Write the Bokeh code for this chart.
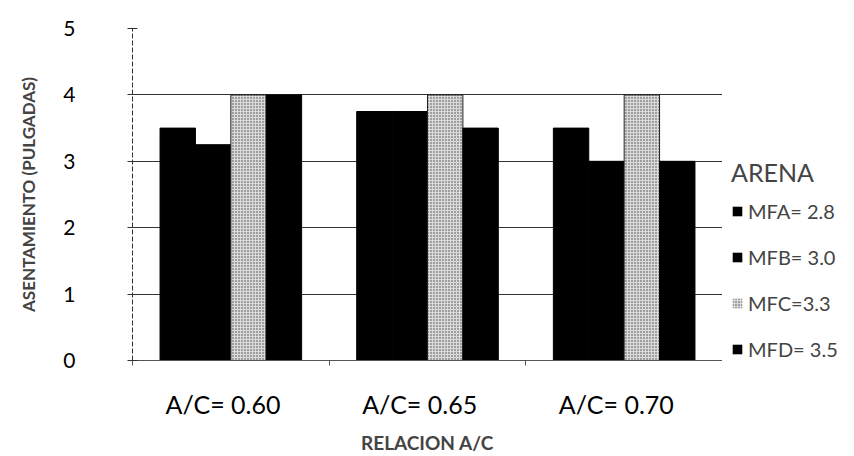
from bokeh.plotting import figure
from bokeh.layouts import row
from bokeh.models import Range1d, FixedTicker, Legend, LegendItem, ColumnDataSource
from bokeh.embed import file_html
from bokeh.resources import INLINE

# Slump (inches) per water/cement ratio for each sand fineness modulus
categories = ["A/C= 0.60", "A/C= 0.65", "A/C= 0.70"]
series_names = ["MFA= 2.8", "MFB= 3.0", "MFC=3.3", "MFD= 3.5"]
mfa = [3.5, 3.75, 3.5]
mfb = [3.25, 3.75, 3.0]
mfc = [4.0, 4.0, 4.0]
mfd = [4.0, 3.5, 3.0]
y_ticks = [0, 1, 2, 3, 4, 5]

FONT = "Lato"
bar_w = 0.18
offsets = [-1.5, -0.5, 0.5, 1.5]

solid_style = dict(fill_color="black", line_color="black", line_width=1)
dotted_style = dict(fill_color="#dadada", line_color="#222222", line_width=1,
                    hatch_pattern=".", hatch_color="#444444", hatch_scale=3,
                    hatch_weight=1.2)

p = figure(width=722, height=456, x_range=Range1d(0, 3), y_range=Range1d(0, 5),
           output_backend="svg", toolbar_location=None,
           min_border_left=132, min_border_right=0,
           min_border_top=28, min_border_bottom=96)
p.outline_line_color = None
p.background_fill_color = "white"

for name, vals, off in zip(series_names, [mfa, mfb, mfc, mfd], offsets):
    xs = [i + 0.5 + off * bar_w for i in range(len(categories))]
    src = ColumnDataSource(dict(x=xs, top=vals))
    style = dotted_style if name.startswith("MFC") else solid_style
    p.vbar(x="x", top="top", width=bar_w, bottom=0, source=src, **style)

# y axis
p.yaxis.ticker = FixedTicker(ticks=y_ticks)
p.yaxis.axis_label = "ASENTAMIENTO (PULGADAS)"
p.yaxis.axis_label_text_font = FONT
p.yaxis.axis_label_text_font_style = "bold"
p.yaxis.axis_label_text_font_size = "17px"
p.yaxis.axis_label_standoff = 21
p.yaxis.major_label_text_font = FONT
p.yaxis.major_label_text_font_size = "21px"
p.yaxis.major_label_text_color = "black"
p.yaxis.major_label_standoff = 52
p.yaxis.axis_line_color = "#333333"
p.yaxis.axis_line_dash = "5 2"
p.yaxis.major_tick_line_color = "#333333"
p.yaxis.major_tick_in = 5
p.yaxis.major_tick_out = 5
p.yaxis.minor_tick_line_color = None

# x axis: labels sit slightly left of each group centre
label_pos = [0.46, 1.46, 2.46]
p.xaxis.ticker = FixedTicker(ticks=label_pos, minor_ticks=[0, 1, 2, 3])
p.xaxis.major_label_overrides = dict(zip(label_pos, categories))
p.xaxis.major_tick_line_color = None
p.xaxis.minor_tick_line_color = "#555555"
p.xaxis.minor_tick_out = 5
p.xaxis.minor_tick_in = 0
p.xaxis.axis_line_color = "#555555"
p.xaxis.major_label_text_font = FONT
p.xaxis.major_label_text_font_size = "25px"
p.xaxis.major_label_text_color = "black"
p.xaxis.major_label_standoff = 22
p.xaxis.axis_label = "RELACION A/C"
p.xaxis.axis_label_text_font = FONT
p.xaxis.axis_label_text_font_style = "bold"
p.xaxis.axis_label_text_font_size = "19px"
p.xaxis.axis_label_standoff = 9

p.xgrid.grid_line_color = None
p.ygrid.ticker = FixedTicker(ticks=y_ticks)
p.ygrid.grid_line_color = "#333333"
p.ygrid.grid_line_width = 1

# Legend panel to the right of the chart (its frame lines up with the chart's)
leg = figure(width=132, height=456, x_range=Range1d(0, 1), y_range=Range1d(0, 1),
             output_backend="svg", toolbar_location=None,
             min_border_left=0, min_border_right=0,
             min_border_top=0, min_border_bottom=80)
leg.axis.visible = False
leg.grid.grid_line_color = None
leg.outline_line_color = None

items = []
for name in series_names:
    style = dotted_style if name.startswith("MFC") else solid_style
    # zero-height swatch renderer: only its legend entry shows
    r = leg.vbar(x=[0.5], top=[0], width=0.1, bottom=0,
                 line_alpha=0, **{k: v for k, v in style.items() if k != "line_color"})
    r.glyph.line_color = style["line_color"]
    items.append(LegendItem(label=name, renderers=[r]))

legend = Legend(items=items, location=(9, -1), title="ARENA",
                title_text_font=FONT, title_text_font_size="25px",
                title_text_font_style="normal", title_standoff=12,
                title_text_align="center",
                label_text_font=FONT, label_text_font_size="20px",
                glyph_width=12, glyph_height=12, spacing=22,
                label_standoff=5, border_line_color=None,
                padding=2, margin=0,
                background_fill_alpha=0)
leg.add_layout(legend)

open("out.html", "w").write(file_html(row(p, leg), INLINE))
